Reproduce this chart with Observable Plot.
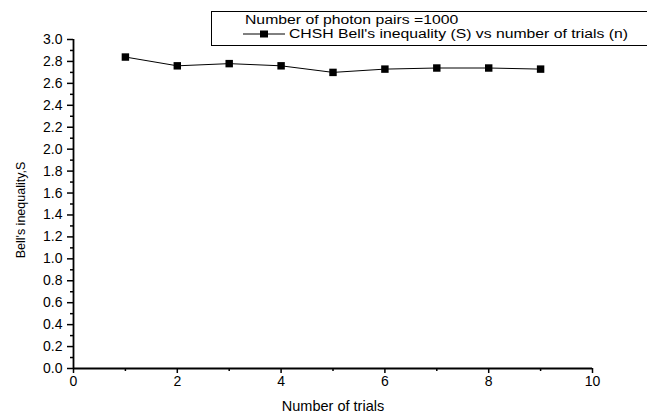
<!DOCTYPE html>
<html>
<head>
<meta charset="utf-8">
<script src="https://cdn.jsdelivr.net/npm/d3@7"></script>
<script src="https://cdn.jsdelivr.net/npm/@observablehq/plot@0.6"></script>
<style>
  html, body { margin: 0; padding: 0; background: #fff; }
  #wrap { position: relative; width: 647px; height: 416px; font-family: "Liberation Sans", Arial, sans-serif; }
  #legend { position: absolute; left: 211px; top: 11px; width: 440px; height: 33px;
    border-top: 1px solid #000; border-left: 1px solid #000; border-bottom: 1px solid #000;
    font-size: 12.5px; color: #000; line-height: 14px; }
  #legend .l1 { position: absolute; left: 33px; top: 1px; height: 14px; white-space: nowrap;
    transform: scaleX(1.26); transform-origin: 0 50%; }
  #legend .l2 { position: absolute; left: 31px; top: 15px; height: 14px; white-space: nowrap; display: flex; align-items: center; }
  #legend .l2 span { display: inline-block; transform: scaleX(1.26); transform-origin: 0 50%; }
  #legend svg { margin-right: 4px; }
</style>
</head>
<body>
<div id="wrap">
  <div id="chart"></div>
  <div id="legend"></div>
</div>
<script>
const trials = [1, 2, 3, 4, 5, 6, 7, 8, 9];
const bellS = [2.84, 2.76, 2.78, 2.76, 2.70, 2.73, 2.74, 2.74, 2.73];
const xTicks = [0, 2, 4, 6, 8, 10];
const xMinorTicks = [1, 3, 5, 7, 9];
const yTicks = [0, 0.2, 0.4, 0.6, 0.8, 1.0, 1.2, 1.4, 1.6, 1.8, 2.0, 2.2, 2.4, 2.6, 2.8, 3.0];
const yMinorTicks = [0.1, 0.3, 0.5, 0.7, 0.9, 1.1, 1.3, 1.5, 1.7, 1.9, 2.1, 2.3, 2.5, 2.7, 2.9];
const xTitle = "Number of trials";
const yTitle = "Bell's inequality,S";
const legendTitle = "Number of photon pairs =1000";
const seriesName = "CHSH Bell's inequality (S) vs number of trials (n)";

const data = trials.map((t, i) => ({ n: t, s: bellS[i] }));

const chart = Plot.plot({
  width: 647,
  height: 416,
  marginLeft: 73,
  marginRight: 55,
  marginTop: 39,
  marginBottom: 48,
  style: { fontFamily: "'Liberation Sans', Arial, sans-serif", fontSize: "14px", color: "#000", background: "#fff" },
  x: { domain: [0, 10] },
  y: { domain: [0, 3] },
  marks: [
    Plot.axisX({ ticks: xTicks, tickSize: 5, tickPadding: 3, tickFormat: d3.format("d"), label: null, strokeWidth: 1.5, fontSize: 14 }),
    Plot.axisX({ ticks: xMinorTicks, tickSize: 3, tickFormat: () => "", label: null, strokeWidth: 1.5 }),
    Plot.axisY({ ticks: yTicks, tickSize: 6, tickPadding: 5, tickFormat: d3.format(".1f"), label: null, strokeWidth: 1.5, fontSize: 14 }),
    Plot.axisY({ ticks: yMinorTicks, tickSize: 3, tickFormat: () => "", label: null, strokeWidth: 1.5 }),
    Plot.ruleY([0], { stroke: "#000", strokeWidth: 1.8 }),
    Plot.ruleX([0], { stroke: "#000", strokeWidth: 1.8 }),
    Plot.line(data, { x: "n", y: "s", stroke: "#000", strokeWidth: 1 }),
    Plot.dot(data, { x: "n", y: "s", symbol: "square", r: 4.2, fill: "#000", stroke: "none" }),
    Plot.text([xTitle], { frameAnchor: "bottom", textAnchor: "middle", lineAnchor: "middle", dy: 38, fontSize: 14.5, fill: "#000" }),
    Plot.text([yTitle], { frameAnchor: "left", textAnchor: "middle", lineAnchor: "middle", dx: -53, dy: 6, rotate: -90, fontSize: 12.5, fill: "#000" })
  ]
});
document.getElementById("chart").appendChild(chart);

const legend = document.getElementById("legend");
const l1 = document.createElement("div");
l1.className = "l1";
l1.textContent = legendTitle;
legend.appendChild(l1);
const l2 = document.createElement("div");
l2.className = "l2";
const sym = d3.create("svg").attr("width", 42).attr("height", 12);
sym.append("line").attr("x1", 0).attr("x2", 42).attr("y1", 6).attr("y2", 6).attr("stroke", "#000").attr("stroke-width", 1);
sym.append("rect").attr("x", 17).attr("y", 2.5).attr("width", 8).attr("height", 7).attr("fill", "#000");
l2.appendChild(sym.node());
const t2 = document.createElement("span");
t2.textContent = seriesName;
l2.appendChild(t2);
legend.appendChild(l2);
</script>
</body>
</html>
